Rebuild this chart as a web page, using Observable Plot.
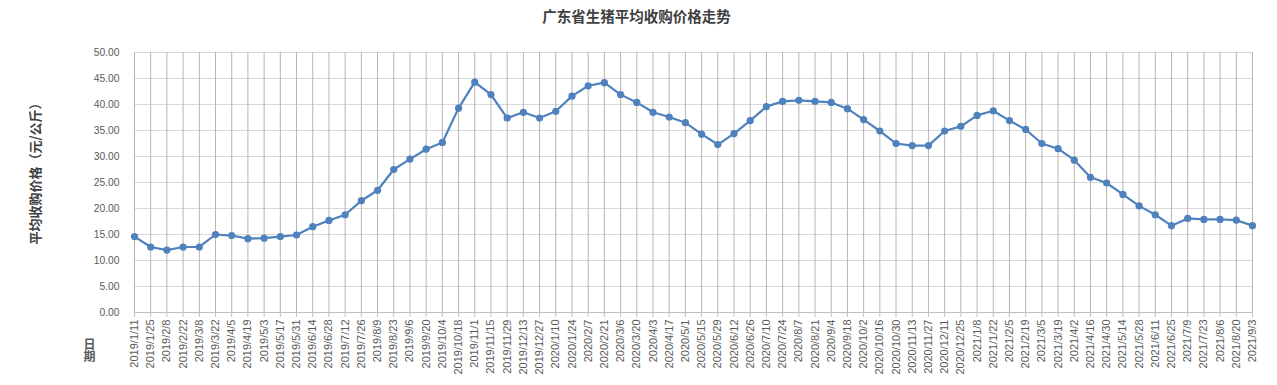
<!DOCTYPE html>
<html>
<head>
<meta charset="utf-8">
<script src="https://cdn.jsdelivr.net/npm/d3@7"></script>
<script src="https://cdn.jsdelivr.net/npm/@observablehq/plot@0.6"></script>
<style>
  html, body { margin: 0; padding: 0; background: #fff; }
  #chart { width: 1277px; height: 385px; }
</style>
</head>
<body>
<div id="chart"></div>
<script>
const title = "广东省生猪平均收购价格走势";
const yLabel = "平均收购价格（元/公斤）";
const xLabel = "日期";

const dates = ["2019/1/11","2019/1/25","2019/2/8","2019/2/22","2019/3/8","2019/3/22","2019/4/5","2019/4/19","2019/5/3","2019/5/17","2019/5/31","2019/6/14","2019/6/28","2019/7/12","2019/7/26","2019/8/9","2019/8/23","2019/9/6","2019/9/20","2019/10/4","2019/10/18","2019/11/1","2019/11/15","2019/11/29","2019/12/13","2019/12/27",
"2020/1/10","2020/1/24","2020/2/7","2020/2/21","2020/3/6","2020/3/20","2020/4/3","2020/4/17","2020/5/1","2020/5/15","2020/5/29","2020/6/12","2020/6/26","2020/7/10","2020/7/24","2020/8/7","2020/8/21","2020/9/4","2020/9/18","2020/10/2","2020/10/16","2020/10/30","2020/11/13","2020/11/27","2020/12/11","2020/12/25",
"2021/1/8","2021/1/22","2021/2/5","2021/2/19","2021/3/5","2021/3/19","2021/4/2","2021/4/16","2021/4/30","2021/5/14","2021/5/28","2021/6/11","2021/6/25","2021/7/9","2021/7/23","2021/8/6","2021/8/20","2021/9/3"];

const prices = [14.6,12.6,12.0,12.6,12.6,15.0,14.8,14.2,14.3,14.6,14.9,16.5,17.7,18.8,21.5,23.5,27.5,29.5,31.4,32.7,39.3,44.3,41.9,37.4,38.5,37.4,
38.7,41.6,43.6,44.2,41.9,40.4,38.5,37.6,36.5,34.3,32.3,34.4,36.9,39.6,40.6,40.8,40.6,40.4,39.2,37.1,34.9,32.5,32.1,32.1,34.9,35.8,
37.9,38.8,36.9,35.2,32.5,31.5,29.3,26.0,24.9,22.7,20.5,18.8,16.7,18.1,17.9,17.9,17.75,16.7];

const yTicks = [0,5,10,15,20,25,30,35,40,45,50];

const data = dates.map((d, i) => ({date: d, price: prices[i]}));

const latin = "'Liberation Sans','Noto Sans CJK SC',sans-serif";
const cjk = "'Noto Sans CJK SC',sans-serif";
const blue = "#4f81bd";

const chart = Plot.plot({
  width: 1277,
  height: 385,
  marginTop: 52,
  marginRight: 25,
  marginBottom: 73,
  marginLeft: 134,
  style: {fontFamily: latin, fontSize: "10.5px", color: "#595959", background: "#fff"},
  x: {type: "point", domain: dates, padding: 0, round: false, label: null},
  y: {domain: [0, 50], label: null},
  marks: [
    Plot.gridY(yTicks, {stroke: "#d9d9d9", strokeOpacity: 1, strokeWidth: 1}),
    Plot.gridX({stroke: "#b5b5b5", strokeOpacity: 1, strokeWidth: 1}),
    Plot.ruleY([0], {stroke: "#bfbfbf", strokeWidth: 1}),
    Plot.axisY({ticks: yTicks, tickFormat: d => d.toFixed(2), tickSize: 0, tickPadding: 15, fontSize: 10.3, fill: "#595959", label: null}),
    Plot.axisX({tickRotate: -90, tickSize: 5, tickPadding: 2, stroke: "#bfbfbf", fill: "#595959", fontSize: 11, label: null}),
    Plot.line(data, {x: "date", y: "price", stroke: blue, strokeWidth: 2.2}),
    Plot.dot(data, {x: "date", y: "price", fill: blue, r: 3.6}),
    Plot.text([title], {frameAnchor: "top", textAnchor: "middle", dx: -57, dy: -35, lineAnchor: "middle", fontSize: 14.5, fontWeight: "bold", fill: "#404040", fontFamily: cjk}),
    Plot.text([yLabel], {frameAnchor: "left", textAnchor: "middle", rotate: -90, dx: -99, dy: -12, fontSize: 13, fontWeight: "bold", fill: "#404040", fontFamily: cjk}),
    Plot.text([xLabel], {frameAnchor: "bottom-left", textAnchor: "middle", dx: -45, dy: 34, lineAnchor: "middle", fontSize: 12, fontWeight: "bold", fill: "#595959", fontFamily: cjk})
  ]
});

// Render the x-axis title "日期" as vertical (stacked) text, as in the reference
d3.select(chart).selectAll("text").filter(function() { return this.textContent === xLabel; })
  .attr("dy", null)
  .style("writing-mode", "vertical-rl")
  .style("text-orientation", "upright");

document.getElementById("chart").appendChild(chart);
</script>
</body>
</html>
